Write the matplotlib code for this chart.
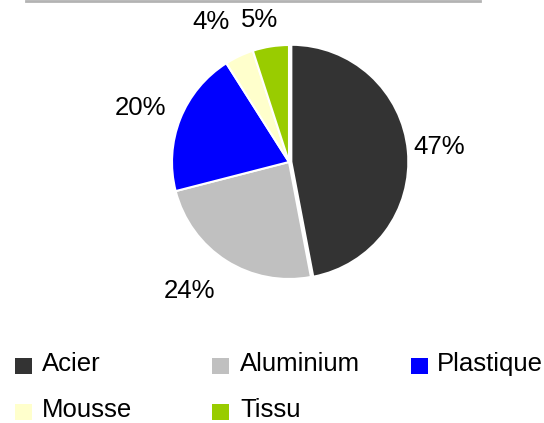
import numpy as np
import matplotlib.pyplot as plt
from matplotlib.lines import Line2D
from matplotlib.patches import Rectangle

plt.rcParams['font.family'] = ['Liberation Sans', 'DejaVu Sans']

# data
categories = ['Acier', 'Aluminium', 'Plastique', 'Mousse', 'Tissu']
shares = [47, 24, 20, 4, 5]
colors = ['#333333', '#c0c0c0', '#0000ff', '#ffffcc', '#99cc00']
explode = [0.02, 0, 0, 0, 0]

# label placement (distance from centre, angle nudge in degrees) - "best fit" look
label_dist = [1.29, 1.39, 1.35, 1.37, 1.24]
label_nudge = [0.3, -5.2, 1.6, 3.8, 2.8]

W, H = 544, 423
fig = plt.figure(figsize=(W / 100, H / 100), dpi=100)

# pie centre (289, 162) px, radius ~117 px
r = 117
cx, cy = 289, H - 162
span = 1.5
ax = fig.add_axes([(cx - span * r) / W, (cy - span * r) / H, 2 * span * r / W, 2 * span * r / H])

wedges, texts = ax.pie(shares, colors=colors, explode=explode, startangle=90,
                       counterclock=False,
                       wedgeprops={'edgecolor': 'white', 'linewidth': 1.5})

for w, v, d, nud in zip(wedges, shares, label_dist, label_nudge):
    mid = np.deg2rad((w.theta1 + w.theta2) / 2 + nud)
    ax.text(d * np.cos(mid), d * np.sin(mid), f'{v}%', fontsize=18.5,
            ha='center', va='center')

ax.set_xlim(-span, span)
ax.set_ylim(-span, span)
ax.set_aspect('equal')
ax.axis('off')

# grey rule at the top
fig.add_artist(Line2D([26 / W, 480 / W], [1 - 1 / H, 1 - 1 / H], color='#b3b3b3', linewidth=2))

# legend laid out as a 3-column grid
sq_x = [15, 212, 411]
txt_x = [42, 240, 437]
baseline = [371, 417]
for i, (name, c) in enumerate(zip(categories, colors)):
    col, row = i % 3, i // 3
    y = baseline[row]
    fig.add_artist(Rectangle((sq_x[col] / W, 1 - (y + 3) / H), 16.5 / W, 16.5 / H, facecolor=c,
                             edgecolor='none', transform=fig.transFigure))
    fig.text(txt_x[col] / W, 1 - y / H, name, fontsize=18.5, va='baseline', ha='left')

fig.savefig('out.png', dpi=100)
